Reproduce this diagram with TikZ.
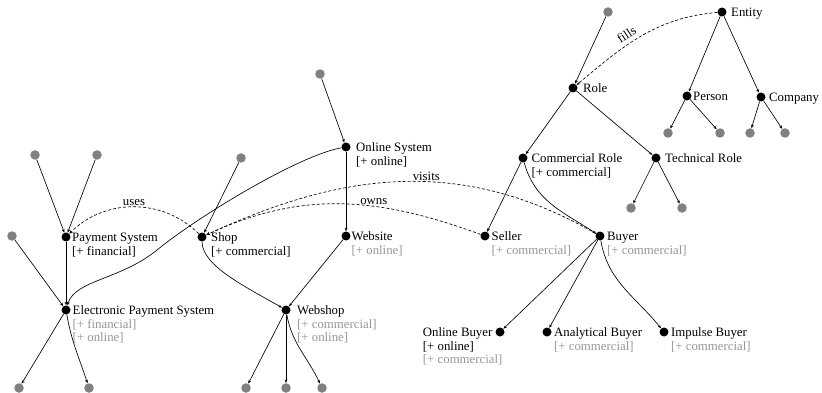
\documentclass[tikz,border=0pt]{standalone}
\usepackage{fontspec}
\setmainfont{Liberation Serif}
\usetikzlibrary{arrows.meta}

\definecolor{stubgray}{RGB}{128,128,128}
\definecolor{inhgray}{RGB}{150,150,150}
\newcommand{\own}[1]{[+ #1]}
\newcommand{\inh}[1]{\textcolor{inhgray}{[+ #1]}}
\newcommand{\lines}[1]{\begin{tabular}[t]{@{}l@{}}#1\end{tabular}}

\tikzset{
    dot/.style={circle, fill=black, inner sep=0pt, minimum size=9pt},
    stub/.style={circle, fill=stubgray, inner sep=0pt, minimum size=9.5pt},
    lbl/.style={anchor=base west, inner sep=0pt, font=\fontsize{12.8}{13.6}\selectfont},
    isa/.style={-{Stealth[length=3.6pt,width=2.8pt]}, line width=0.65pt},
    rel/.style={isa, dash pattern=on 3pt off 2pt},
    rellbl/.style={inner sep=1pt, font=\fontsize{12.8}{13.6}\selectfont},
}

\begin{document}
\begin{tikzpicture}[x=1pt, y=1pt]
    \useasboundingbox (0,0) rectangle (822,-393);

    % Concepts
    \node[dot] (entity)   at (722,-12)  {};
    \node[dot] (role)     at (573,-88)  {};
    \node[dot] (person)   at (687,-96)  {};
    \node[dot] (company)  at (761,-97)  {};
    \node[dot] (comrole)  at (523,-158) {};
    \node[dot] (techrole) at (656,-158) {};
    \node[dot] (seller)   at (485,-236) {};
    \node[dot] (buyer)    at (600,-236) {};
    \node[dot] (onlbuyer) at (500,-332) {};
    \node[dot] (anabuyer) at (547,-332) {};
    \node[dot] (impbuyer) at (664,-332) {};
    \node[dot] (onlsys)   at (346,-147) {};
    \node[dot] (website)  at (346,-236) {};
    \node[dot] (shop)     at (202,-237) {};
    \node[dot] (webshop)  at (286,-310) {};
    \node[dot] (paysys)   at (66,-237)  {};
    \node[dot] (epaysys)  at (66,-310)  {};

    % Unnamed neighbours
    \node[stub] (s1)  at (608,-12)  {};
    \node[stub] (s2)  at (668,-133) {};
    \node[stub] (s3)  at (720,-133) {};
    \node[stub] (s4)  at (750,-133) {};
    \node[stub] (s5)  at (785,-133) {};
    \node[stub] (s6)  at (631,-208) {};
    \node[stub] (s7)  at (682,-208) {};
    \node[stub] (s8)  at (320,-74)  {};
    \node[stub] (s9)  at (241,-158) {};
    \node[stub] (s10) at (246,-388) {};
    \node[stub] (s11) at (286,-388) {};
    \node[stub] (s12) at (322,-388) {};
    \node[stub] (s13) at (35,-155)  {};
    \node[stub] (s14) at (97,-155)  {};
    \node[stub] (s15) at (12,-236)  {};
    \node[stub] (s16) at (19,-388)  {};
    \node[stub] (s17) at (89,-388)  {};

    % Labels
    \node[lbl] (entity-t)   at ([shift={(9pt,-4.5pt)}]entity.center)   {Entity};
    \node[lbl] (role-t)     at ([shift={(10pt,-4.5pt)}]role.center)    {Role};
    \node[lbl] (person-t)   at ([shift={(6pt,-4.5pt)}]person.center)   {Person};
    \node[lbl] (company-t)  at ([shift={(8pt,-4.5pt)}]company.center)  {Company};
    \node[lbl] (comrole-t)  at ([shift={(8.5pt,-4.5pt)}]comrole.center)
        {\lines{Commercial Role\\\own{commercial}}};
    \node[lbl] (techrole-t) at ([shift={(9pt,-4.5pt)}]techrole.center) {Technical Role};
    \node[lbl] (seller-t)   at ([shift={(6.5pt,-4.5pt)}]seller.center)
        {\lines{Seller\\\inh{commercial}}};
    \node[lbl] (buyer-t)    at ([shift={(7pt,-4.5pt)}]buyer.center)
        {\lines{Buyer\\\inh{commercial}}};
    \node[lbl, anchor=base east] (onlbuyer-t) at ([shift={(-7.5pt,-4.5pt)}]onlbuyer.center)
        {\lines{Online Buyer\\\rlap{\own{online}}\\\rlap{\inh{commercial}}}};
    \node[lbl] (anabuyer-t) at ([shift={(7pt,-4.5pt)}]anabuyer.center)
        {\lines{Analytical Buyer\\\inh{commercial}}};
    \node[lbl] (impbuyer-t) at ([shift={(7pt,-4.5pt)}]impbuyer.center)
        {\lines{Impulse Buyer\\\inh{commercial}}};
    \node[lbl] (onlsys-t)   at ([shift={(10pt,-4.5pt)}]onlsys.center)
        {\lines{Online System\\\own{online}}};
    \node[lbl] (website-t)  at ([shift={(5.5pt,-4.5pt)}]website.center)
        {\lines{Website\\\inh{online}}};
    \node[lbl] (shop-t)     at ([shift={(9pt,-4.5pt)}]shop.center)
        {\lines{Shop\\\own{commercial}}};
    \node[lbl] (webshop-t)  at ([shift={(11pt,-4.5pt)}]webshop.center)
        {\lines{Webshop\\\inh{commercial}\\\inh{online}}};
    \node[lbl] (paysys-t)   at ([shift={(6pt,-4.5pt)}]paysys.center)
        {\lines{Payment System\\\own{financial}}};
    \node[lbl] (epaysys-t)  at ([shift={(6.5pt,-4.5pt)}]epaysys.center)
        {\lines{Electronic Payment System\\\inh{financial}\\\inh{online}}};

    % Hierarchy
    \draw[isa] (s1) -- (role);
    \draw[isa] (role) -- (comrole);
    \draw[isa] (role) -- (techrole);
    \draw[isa] (entity) -- (person);
    \draw[isa] (entity) -- (company);
    \draw[isa] (person) -- (s2);
    \draw[isa] (person) -- (s3);
    \draw[isa] (company) -- (s4);
    \draw[isa] (company) -- (s5);
    \draw[isa] (techrole) -- (s6);
    \draw[isa] (techrole) -- (s7);
    \draw[isa] (comrole) -- (seller);
    \draw[isa] (comrole) to[out=-75, in=147] (buyer);
    \draw[isa] (buyer) -- (onlbuyer);
    \draw[isa] (buyer) -- (anabuyer);
    \draw[isa] (buyer) to[out=-80, in=129] (impbuyer);
    \draw[isa] (s8) -- (onlsys);
    \draw[isa] (onlsys) -- (website);
    \draw[isa] (onlsys) .. controls (300,-155) and (200,-215) .. (157,-250)
        .. controls (120,-280) and (75,-280) .. (epaysys);
    \draw[isa] (s9) -- (shop);
    \draw[isa] (shop) to[out=-90, in=150, out looseness=0.6] (webshop);
    \draw[isa] (website) -- (webshop);
    \draw[isa] (webshop) -- (s10);
    \draw[isa] (webshop) -- (s11);
    \draw[isa] (webshop) to[out=-80, in=115] (s12);
    \draw[isa] (s13) -- (paysys);
    \draw[isa] (s14) -- (paysys);
    \draw[isa] (paysys) -- (epaysys);
    \draw[isa] (s15) -- (epaysys);
    \draw[isa] (epaysys) -- (s16);
    \draw[isa] (epaysys) to[out=-80, in=108] (s17);

    % Relations
    \draw[rel] (shop) to[out=135, in=45] node[rellbl, midway, above] (uses) {uses} (paysys);
    \draw[rel] (buyer) to[out=150, in=25] node[rellbl, pos=0.44, above] (visits) {visits} (shop);
    \draw[rel] (seller) to[out=160, in=25] node[rellbl, pos=0.38, above] (owns) {owns} (shop);
    \draw[rel] (entity) to[out=185, in=40] node[rellbl, pos=0.58, above=3pt, sloped] (fills) {fills} (role);
\end{tikzpicture}
\end{document}
